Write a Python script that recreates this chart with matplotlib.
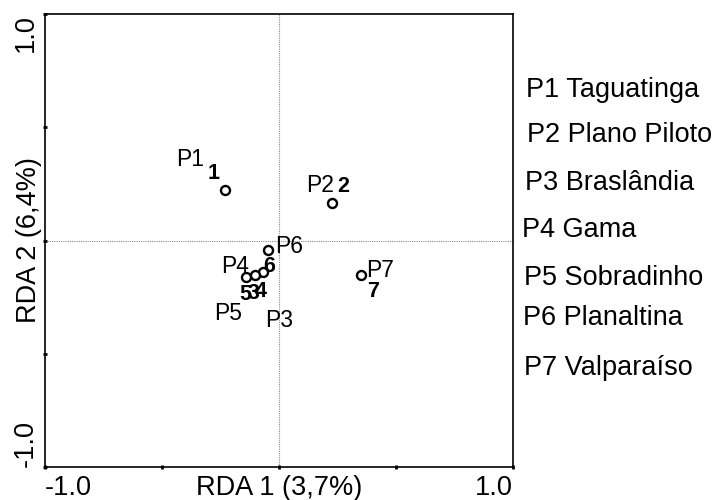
import numpy as np
import matplotlib
matplotlib.use("Agg")
import matplotlib.pyplot as plt

###########################################################################
# Data
site_names = ["P1", "P2", "P3", "P4", "P5", "P6", "P7"]
site_x = [-0.231, 0.226, -0.068, -0.141, -0.103, -0.047, 0.350]
site_y = [0.223, 0.166, -0.139, -0.161, -0.152, -0.042, -0.152]

# bold numbers (centroids)
cent_names = ["1", "2", "3", "4", "5", "6", "7"]
cent_x = [-0.278, 0.274, -0.111, -0.077, -0.145, -0.041, 0.404]
cent_y = [0.294, 0.238, -0.232, -0.225, -0.238, -0.113, -0.225]

legend_labels = ["P1 Taguatinga", "P2 Plano Piloto", "P3 Braslândia", "P4 Gama",
                 "P5 Sobradinho", "P6 Planaltina", "P7 Valparaíso"]

x_ticks = [-1.0, 1.0]
x_tick_labels = ["-1.0", "1.0"]
y_ticks = [-1.0, 1.0]
y_tick_labels = ["-1.0", "1.0"]
minor_ticks = [-0.5, 0.0, 0.5]

###########################################################################
# Layout (pixels)
label_offsets = [(-34.5, 24), (-12, 11), (16.5, -55), (-10.5, 4), (-27, -45), (21.5, -3), (19, -2)]
legend_px = [(526, 97), (527, 142), (525, 190), (522, 237), (524, 285), (523, 325), (524, 375)]

plt.rcParams['font.family'] = ['Liberation Sans', 'DejaVu Sans']
W, H = 722, 500
fig = plt.figure(figsize=(W / 100, H / 100), dpi=100)
ax = fig.add_axes([45 / W, 1 - 467 / H, 468 / W, 453 / H])

ax.set_xlim(-1, 1)
ax.set_ylim(-1, 1)

ax.axhline(0, color="#8a8a8a", lw=0.8, ls=(0, (1, 1)), zorder=1)
ax.axvline(0, color="#8a8a8a", lw=0.8, ls=(0, (1, 1)), zorder=1)

ax.plot(site_x, site_y, 'o', ms=6.5, mfc='white', mec='black', mew=1.7, zorder=3)

for name, x, y, off in zip(site_names, site_x, site_y, label_offsets):
    ax.annotate(name, (x, y), xytext=off, textcoords='offset pixels',
                ha='center', va='baseline', fontsize=16.5, zorder=4)

for name, x, y in zip(cent_names, cent_x, cent_y):
    ax.text(x, y, name, ha='center', va='center', fontsize=15.5,
            fontweight='bold', zorder=5)

for lab, (px, py) in zip(legend_labels, legend_px):
    fig.text(px / W, 1 - py / H, lab, ha='left', va='baseline', fontsize=19.5)

for s in ax.spines.values():
    s.set_linewidth(1.2)

ax.set_xticks(x_ticks)
ax.set_xticklabels(x_tick_labels)
ax.set_yticks(y_ticks)
ax.set_yticklabels(y_tick_labels, rotation=90)
ax.set_xticks(minor_ticks, minor=True)
ax.set_yticks(minor_ticks, minor=True)
ax.tick_params(which='both', direction='inout', length=3, width=2, labelsize=19.5)
ax.tick_params(axis='x', pad=4)
ax.tick_params(axis='y', pad=3)

xl = ax.get_xticklabels()
xl[0].set_ha('left')
xl[1].set_ha('right')
yl = ax.get_yticklabels()
yl[0].set_va('bottom')
yl[1].set_va('top')

ax.set_xlabel("RDA 1 (3,7%)", fontsize=19.5)
ax.xaxis.set_label_coords(0.5, -0.017)
ax.set_ylabel("RDA 2 (6,4%)", fontsize=19.5)
ax.yaxis.set_label_coords(-0.0064, 0.5)

plt.savefig("out.png", dpi=100)
